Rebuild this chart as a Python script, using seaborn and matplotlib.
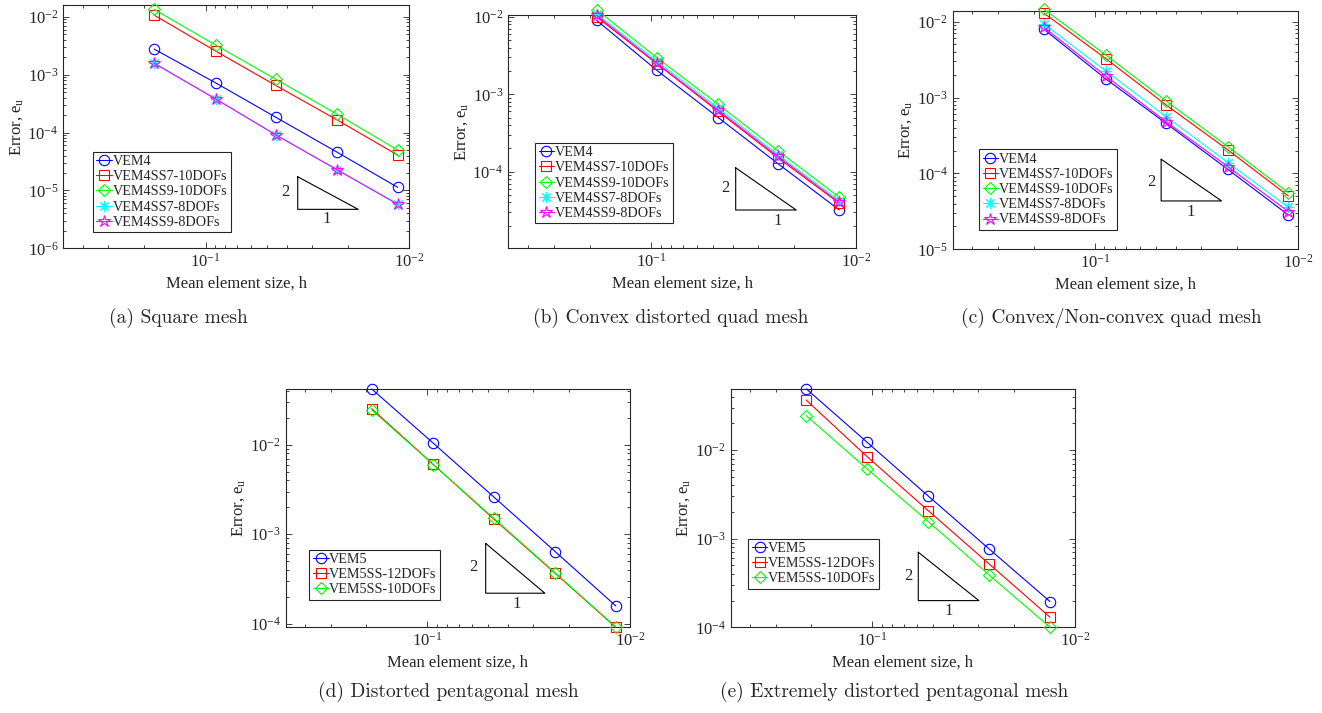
import matplotlib
matplotlib.use("Agg")
import matplotlib.pyplot as plt
import seaborn as sns
import pandas as pd

sns.set_style("ticks")
plt.rcParams["font.family"] = ["Liberation Serif", "DejaVu Serif"]
plt.rcParams["mathtext.fontset"] = "stix"

# mesh sizes h
h_a = [0.179, 0.0891, 0.0451, 0.0225, 0.01138]
h_b = [0.185, 0.0942, 0.0471, 0.0240, 0.01208]
h_c = [0.178, 0.0885, 0.0447, 0.0222, 0.0112]
h_d = [0.188, 0.0934, 0.0469, 0.0234, 0.01175]
h_e = [0.212, 0.106, 0.053, 0.0265, 0.01327]

labels4 = ["VEM4", "VEM4SS7-10DOFs", "VEM4SS9-10DOFs", "VEM4SS7-8DOFs", "VEM4SS9-8DOFs"]
labels5 = ["VEM5", "VEM5SS-12DOFs", "VEM5SS-10DOFs"]

# (a) square mesh
err_a = [
    [2.77e-3, 7.2e-4, 1.83e-4, 4.55e-5, 1.13e-5],
    [1.07e-2, 2.55e-3, 6.5e-4, 1.64e-4, 4.08e-5],
    [1.34e-2, 3.24e-3, 8.3e-4, 2.06e-4, 4.99e-5],
    [1.56e-3, 3.79e-4, 9.06e-5, 2.25e-5, 5.75e-6],
    [1.58e-3, 3.8e-4, 9.1e-5, 2.26e-5, 5.8e-6],
]
# (b) convex distorted quad mesh
err_b = [
    [9.06e-3, 2.05e-3, 5.0e-4, 1.26e-4, 3.2e-5],
    [1.0e-2, 2.5e-3, 6.0e-4, 1.5e-4, 3.9e-5],
    [1.24e-2, 2.99e-3, 7.4e-4, 1.85e-4, 4.67e-5],
    [1.1e-2, 2.7e-3, 6.6e-4, 1.65e-4, 4.2e-5],
    [1.05e-2, 2.55e-3, 6.2e-4, 1.57e-4, 4.0e-5],
]
# (c) convex / non-convex quad mesh
err_c = [
    [7.9e-3, 1.76e-3, 4.57e-4, 1.13e-4, 2.84e-5],
    [1.29e-2, 3.26e-3, 7.98e-4, 2.04e-4, 5.05e-5],
    [1.45e-2, 3.64e-3, 9.0e-4, 2.25e-4, 5.58e-5],
    [9.3e-3, 2.24e-3, 5.6e-4, 1.39e-4, 3.58e-5],
    [8.4e-3, 1.92e-3, 4.81e-4, 1.23e-4, 3.14e-5],
]
# (d) distorted pentagonal mesh
err_d = [
    [4.2e-2, 1.04e-2, 2.6e-3, 6.4e-4, 1.58e-4],
    [2.53e-2, 6.03e-3, 1.47e-3, 3.66e-4, 9.1e-5],
    [2.45e-2, 6.0e-3, 1.5e-3, 3.7e-4, 9.2e-5],
]
# (e) extremely distorted pentagonal mesh
err_e = [
    [4.9e-2, 1.22e-2, 3.03e-3, 7.64e-4, 1.95e-4],
    [3.66e-2, 8.4e-3, 2.07e-3, 5.18e-4, 1.3e-4],
    [2.44e-2, 6.1e-3, 1.56e-3, 3.89e-4, 1.0e-4],
]

captions = [
    "(a) Square mesh",
    "(b) Convex distorted quad mesh",
    "(c) Convex/Non-convex quad mesh",
    "(d) Distorted pentagonal mesh",
    "(e) Extremely distorted pentagonal mesh",
]

colors = ["#0000ff", "#ff0000", "#00ff00", "#00ffff", "#ff00ff"]
markers = ["o", "s", "D", (8, 2, 0), "*"]
msizes = [7.5, 6.5, 6.5, 8, 9]

fig = plt.figure(figsize=(13.22, 7.13), dpi=100)


def draw_panel(rect, h, errs, labels, ylim, tri, leg_xy):
    ax = fig.add_axes(rect)
    for i, (e, lab) in enumerate(zip(errs, labels)):
        df = pd.DataFrame({"h": h, "err": e})
        sns.lineplot(data=df, x="h", y="err", ax=ax, color=colors[i], lw=0.8,
                     marker=markers[i], markersize=msizes[i], markerfacecolor="none",
                     markeredgecolor=colors[i], markeredgewidth=0.8,
                     label=lab, clip_on=False, zorder=3 + i)
    ax.set_xscale("log")
    ax.set_yscale("log")
    ax.set_xlim(0.5, 0.01)
    ax.set_ylim(*ylim)
    ax.set_xlabel("Mean element size, h", fontsize=12, labelpad=3)
    ax.set_ylabel(r"Error, $\mathregular{e_u}$", fontsize=12, labelpad=2)
    ax.tick_params(which="both", direction="in", top=True, right=True,
                   labelsize=12, color="#262626", width=0.6)
    ax.tick_params(which="major", length=4)
    ax.tick_params(which="minor", length=2)
    for s in ax.spines.values():
        s.set_linewidth(0.8)
        s.set_color("#262626")
    # slope triangle (axes fractions)
    x1, x2, yb, yt = tri[:4]
    ax.plot([x1, x1, x2, x1], [yt, yb, yb, yt], transform=ax.transAxes,
            color="black", lw=0.8, clip_on=False)
    ax.text(tri[4], tri[5], "2", transform=ax.transAxes, fontsize=12,
            ha="center", va="center")
    ax.text(tri[6], tri[7], "1", transform=ax.transAxes, fontsize=12,
            ha="center", va="center")
    leg = ax.legend(loc="lower left", bbox_to_anchor=leg_xy, borderaxespad=0,
                    fontsize=10.2, frameon=True, fancybox=False, framealpha=1,
                    edgecolor="#262626", handlelength=1.1, handletextpad=0.05,
                    borderpad=0.25, labelspacing=0.15)
    leg.get_frame().set_linewidth(0.8)
    return ax


draw_panel([0.0479, 0.6518, 0.2615, 0.3412], h_a, err_a, labels4, (1e-6, 1.6e-2),
           (0.678, 0.853, 0.160, 0.294, 0.642, 0.233, 0.762, 0.120), (0.085, 0.066))
draw_panel([0.3845, 0.6518, 0.2630, 0.3271], h_b, err_b, labels4, (1.02e-5, 1.06e-2),
           (0.654, 0.828, 0.164, 0.345, 0.623, 0.257, 0.776, 0.118), (0.077, 0.107))
draw_panel([0.7207, 0.6503, 0.2614, 0.3343], h_c, err_c, labels4, (1e-5, 1.38e-2),
           (0.603, 0.778, 0.203, 0.378, 0.576, 0.284, 0.687, 0.155), (0.076, 0.081))
draw_panel([0.2161, 0.1202, 0.2604, 0.3342], h_d, err_d, labels5, (9.1e-5, 4.2e-2),
           (0.581, 0.753, 0.143, 0.352, 0.545, 0.252, 0.671, 0.097), (0.069, 0.115))
draw_panel([0.5527, 0.1202, 0.2604, 0.3342], h_e, err_e, labels5, (1e-4, 4.87e-2),
           (0.545, 0.721, 0.112, 0.315, 0.516, 0.215, 0.632, 0.070), (0.051, 0.161))

cap_pos = [(0.1346, 0.554), (0.5076, 0.554), (0.8404, 0.554),
           (0.3389, 0.0295), (0.6762, 0.0295)]
for (cx, cy), cap in zip(cap_pos, captions):
    fig.text(cx, cy, cap, family="cmr10", fontsize=14, ha="center", va="center")

fig.savefig("out.png", dpi=100)
